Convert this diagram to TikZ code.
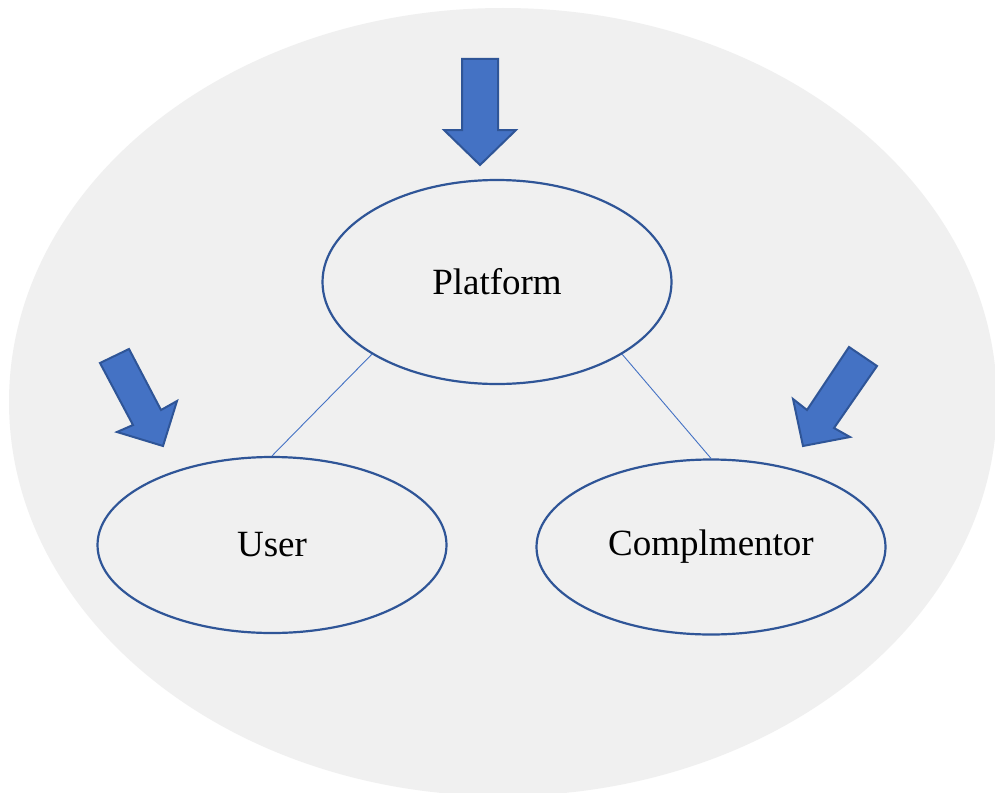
\documentclass[tikz,border=0pt]{standalone}
\usepackage{fontspec}
\setmainfont{Liberation Serif}
\usetikzlibrary{shapes.geometric}
\definecolor{bgray}{RGB}{240,240,240}
\definecolor{edgeblue}{RGB}{47,85,151}
\definecolor{fillblue}{RGB}{68,114,196}
\tikzset{
  entity/.style={ellipse, draw=edgeblue, line width=2.2pt, inner sep=0pt,
    minimum width=349pt, font=\fontsize{37}{40}\selectfont},
  link/.style={draw=fillblue, line width=0.9pt},
  blockarrow/.style={fill=fillblue, draw=edgeblue, line width=2pt, line join=miter}
}
\begin{document}
\begin{tikzpicture}[x=1pt, y=-1pt]
  \clip (0,0) rectangle (995,792);
  \fill[white] (0,0) rectangle (995,792);
  % backdrop
  \fill[bgray] (503,402) ellipse [x radius=494, y radius=394];

  % the three parties
  \node[entity, minimum height=204pt] (platform) at (497,282) {Platform};
  \node[entity, minimum height=176pt] (user) at (272,545) {User};
  \node[entity, minimum height=175pt] (comp) at (711,547) {Complmentor};

  % links
  \draw[link] (platform.210.5) -- (user.north);
  \draw[link] (platform.-30.5) -- (comp.north);

  % incoming block arrows
  \draw[blockarrow] (462,59) -- (498,59) -- (498,130) -- (516,130) -- (480,165)
     -- (444,130) -- (462,130) -- cycle;
  \draw[blockarrow] (100,363) -- (129,349) -- (161,410) -- (177,401) -- (163,446)
     -- (117,432) -- (133,425) -- cycle;
  \draw[blockarrow] (849,347) -- (877,366) -- (834,428) -- (850,437) -- (803,446)
     -- (793,399) -- (807,410) -- cycle;
\end{tikzpicture}
\end{document}
